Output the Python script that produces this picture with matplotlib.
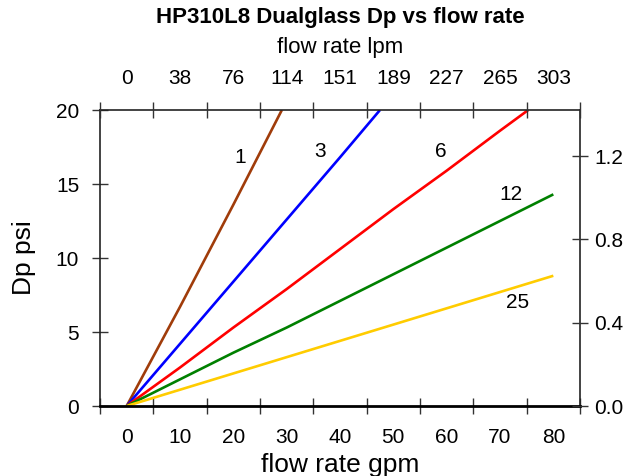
import numpy as np
import matplotlib
matplotlib.use("Agg")
import matplotlib.pyplot as plt
from matplotlib.ticker import FixedLocator, NullFormatter, FixedFormatter

plt.rcParams['font.family'] = ['Liberation Sans', 'DejaVu Sans']

# data (flow in gpm, Dp in psi)
flow_1 = [0, 10, 20, 29.1]
dp_1 = [0, 6.7, 13.6, 20.0]
flow_3 = [0, 10, 20, 30, 40, 47.5]
dp_3 = [0, 4.2, 8.4, 12.6, 16.8, 20.0]
flow_6 = [0, 10, 20, 30, 40, 50, 60, 70, 75.3]
dp_6 = [0, 2.6, 5.3, 7.9, 10.6, 13.3, 15.9, 18.6, 20.0]
flow_12 = [0, 10, 20, 30, 40, 50, 60, 70, 80]
dp_12 = [0, 1.8, 3.6, 5.3, 7.1, 8.9, 10.7, 12.5, 14.3]
flow_25 = [0, 10, 20, 30, 40, 50, 60, 70, 80]
dp_25 = [0, 1.1, 2.2, 3.3, 4.4, 5.5, 6.6, 7.7, 8.8]

series = [
    ("1", flow_1, dp_1, "#a03c0a", (21.3, 16.8)),
    ("3", flow_3, dp_3, "#0000ff", (36.3, 17.2)),
    ("6", flow_6, dp_6, "#ff0000", (58.9, 17.2)),
    ("12", flow_12, dp_12, "#008000", (72.1, 14.3)),
    ("25", flow_25, dp_25, "#ffcc00", (73.2, 7.0)),
]

gpm_labels = [0, 10, 20, 30, 40, 50, 60, 70, 80]
lpm_labels = ["0", "38", "76", "114", "151", "189", "227", "265", "303"]
tick_edges = [-5, 5, 15, 25, 35, 45, 55, 65, 75, 85]
psi_ticks = [0, 5, 10, 15, 20]
right_ticks = [0.0, 0.4, 0.8, 1.2]
right_factor = 0.0711   # right axis units per psi

fig = plt.figure(figsize=(6.26, 4.76), dpi=100)
ax = fig.add_axes([100/626, 70/476, 480/626, 296/476])

for name, x, y, c, pos in series:
    ax.plot(x, y, color=c, lw=1.9, solid_capstyle='butt')
    ax.text(pos[0], pos[1], name, fontsize=15, ha='center', va='center')

ax.set_xlim(-5, 85)
ax.set_ylim(0, 20)

# bottom axis: ticks between labels
ax.xaxis.set_major_locator(FixedLocator(tick_edges))
ax.xaxis.set_major_formatter(NullFormatter())
ax.xaxis.set_minor_locator(FixedLocator(gpm_labels))
ax.xaxis.set_minor_formatter(FixedFormatter([str(v) for v in gpm_labels]))
ax.tick_params(axis='x', which='major', direction='inout', length=12, width=1, color='#333333')
ax.tick_params(axis='x', which='minor', length=0, labelsize=15, pad=16)

ax.set_yticks(psi_ticks)
ax.tick_params(axis='y', direction='inout', length=12, width=1, labelsize=15, pad=9, color='#333333')

for s in ['left', 'top', 'right']:
    ax.spines[s].set_linewidth(1.2)
    ax.spines[s].set_color('#222222')
ax.spines['bottom'].set_linewidth(2)

ax.set_xlabel("flow rate gpm", fontsize=19, labelpad=4)
ax.set_ylabel("Dp psi", fontsize=19, labelpad=14)

# top axis in lpm
top = ax.twiny()
top.set_xlim(ax.get_xlim())
top.xaxis.set_major_locator(FixedLocator(tick_edges))
top.xaxis.set_major_formatter(NullFormatter())
top.xaxis.set_minor_locator(FixedLocator(gpm_labels))
top.xaxis.set_minor_formatter(FixedFormatter(lpm_labels))
top.tick_params(axis='x', which='major', direction='inout', length=12, width=1, color='#333333')
top.tick_params(axis='x', which='minor', length=0, labelsize=15, pad=16)
top.set_xlabel("flow rate lpm", fontsize=16, labelpad=11)

# right axis
right = ax.twinx()
right.set_ylim(0, 20 * right_factor)
right.set_yticks(right_ticks)
right.set_yticklabels(["%.1f" % v for v in right_ticks])
right.tick_params(axis='y', direction='inout', length=12, width=1, labelsize=15, pad=4, color='#333333')

for a in (top, right):
    for s in a.spines.values():
        s.set_visible(False)

fig.text(340/626, 1 - 17/476, "HP310L8 Dualglass Dp vs flow rate", fontsize=16,
         fontweight='bold', ha='center', va='center')

fig.savefig("out.png", dpi=100)
